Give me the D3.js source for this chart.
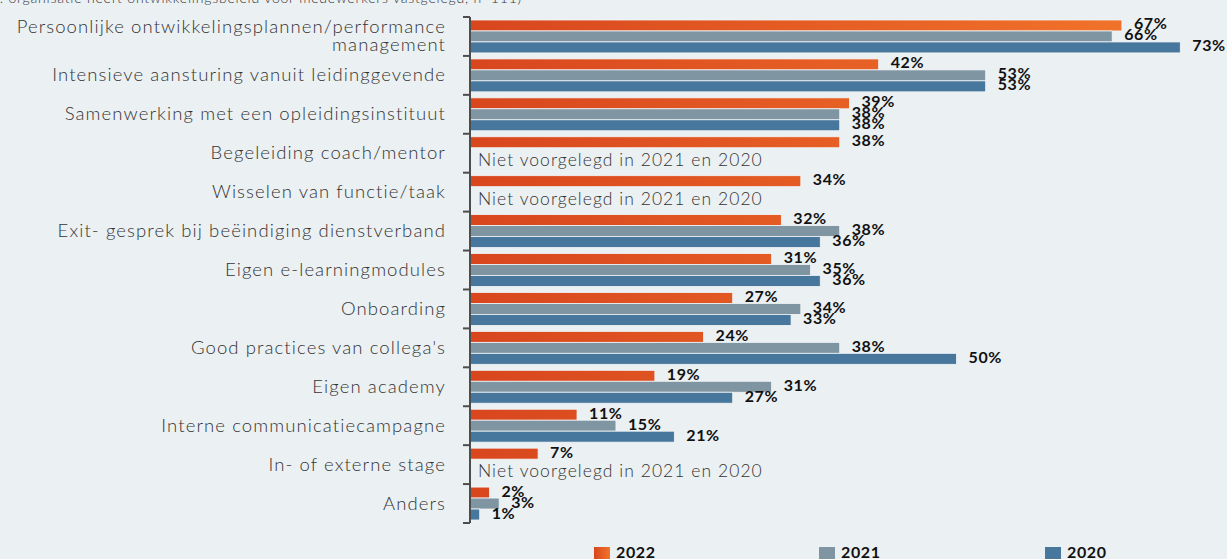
<!DOCTYPE html>
<html>
<head>
<meta charset="utf-8">
<script src="https://cdn.jsdelivr.net/npm/d3@7"></script>
<style>
  body { margin: 0; background: #ebf0f3; }
  svg { display: block; }
</style>
</head>
<body>
<div id="chart"></div>
<script>
const width = 1227, height = 559;

const categories = [
  ["Persoonlijke ontwikkelingsplannen/performance", "management"],
  ["Intensieve aansturing vanuit leidinggevende"],
  ["Samenwerking met een opleidingsinstituut"],
  ["Begeleiding coach/mentor"],
  ["Wisselen van functie/taak"],
  ["Exit- gesprek bij beëindiging dienstverband"],
  ["Eigen e-learningmodules"],
  ["Onboarding"],
  ["Good practices van collega's"],
  ["Eigen academy"],
  ["Interne communicatiecampagne"],
  ["In- of externe stage"],
  ["Anders"]
];
const years = ["2022", "2021", "2020"];
const values2022 = [67, 42, 39, 38, 34, 32, 31, 27, 24, 19, 11, 7, 2];
const values2021 = [66, 53, 38, null, null, 38, 35, 34, 38, 31, 15, null, 3];
const values2020 = [73, 53, 38, null, null, 36, 36, 33, 50, 27, 21, null, 1];
const notAskedText = "Niet voorgelegd in 2021 en 2020";
const subtitle = "(Basis: organisatie heeft ontwikkelingsbeleid voor medewerkers vastgelegd, n=111)";

const seriesValues = { "2022": values2022, "2021": values2021, "2020": values2020 };
const colors = { "2022": "url(#grad2022)", "2021": "#7f95a2", "2020": "#47779c" };

const svg = d3.select("#chart").append("svg")
    .attr("width", width)
    .attr("height", height);

const defs = svg.append("defs");
const g1 = defs.append("linearGradient").attr("id", "grad2022")
    .attr("gradientUnits", "userSpaceOnUse")
    .attr("x1", 470).attr("x2", 1140).attr("y1", 0).attr("y2", 0);
g1.append("stop").attr("offset", "0%").attr("stop-color", "#d8461e");
g1.append("stop").attr("offset", "100%").attr("stop-color", "#f1732a");
const g2 = defs.append("linearGradient").attr("id", "grad2022legend");
g2.append("stop").attr("offset", "0%").attr("stop-color", "#d8461e");
g2.append("stop").attr("offset", "100%").attr("stop-color", "#f1732a");

svg.append("rect").attr("width", width).attr("height", height).attr("fill", "#ebf0f3");

// cut-off subtitle at the top
svg.append("text")
    .attr("x", 522).attr("y", 3)
    .attr("text-anchor", "end")
    .attr("font-family", "Lato")
    .attr("font-weight", 300)
    .attr("font-size", 14)
    .attr("letter-spacing", 0.8)
    .attr("fill", "#333")
    .text(subtitle);

const x = d3.scaleLinear().domain([0, 100]).range([470, 1443]);
const y = d3.scaleBand().domain(d3.range(categories.length)).range([17, 523]);
const inner = d3.scaleBand().domain(years).range([3, y.bandwidth() - 3]);

const rows = categories.map((c, i) => ({ i, label: c }));
const bars = [];
rows.forEach(r => years.forEach(yr => {
    const v = seriesValues[yr][r.i];
    if (v !== null) bars.push({ i: r.i, year: yr, value: v });
}));

// bars
svg.append("g").selectAll("rect")
    .data(bars)
    .join("rect")
    .attr("x", x(0))
    .attr("y", d => y(d.i) + inner(d.year))
    .attr("width", d => x(d.value) - x(0))
    .attr("height", inner.bandwidth())
    .attr("fill", d => colors[d.year])
    .attr("stroke", "#f3f6f8")
    .attr("stroke-width", 0.8);

// value labels
svg.append("g").selectAll("text")
    .data(bars)
    .join("text")
    .attr("x", d => x(d.value) + 12)
    .attr("y", d => y(d.i) + inner(d.year) + inner.bandwidth() / 2 + 4)
    .attr("font-family", "Lato")
    .attr("font-weight", 700)
    .attr("font-size", 16)
    .attr("letter-spacing", 0.6)
    .attr("fill", "#111")
    .text(d => d.value + "%");

// not asked labels
svg.append("g").selectAll("text")
    .data(rows.filter(r => values2021[r.i] === null))
    .join("text")
    .attr("x", x(0) + 8)
    .attr("y", r => y(r.i) + inner("2021") + inner.bandwidth() + 7)
    .attr("font-family", "Lato")
    .attr("font-weight", 300)
    .attr("font-size", 17.5)
    .attr("letter-spacing", 1.05)
    .attr("fill", "#333")
    .text(notAskedText);

// axis
const axis = svg.append("g");
axis.append("line")
    .attr("x1", x(0)).attr("x2", x(0))
    .attr("y1", y.range()[0]).attr("y2", y.range()[1])
    .attr("stroke", "#4d4d4d").attr("stroke-width", 2);
axis.selectAll(".tick")
    .data(d3.range(categories.length + 1))
    .join("line")
    .attr("class", "tick")
    .attr("x1", x(0) - 7).attr("x2", x(0))
    .attr("y1", i => y.range()[0] + i * y.step())
    .attr("y2", i => y.range()[0] + i * y.step())
    .attr("stroke", "#4d4d4d").attr("stroke-width", 2);

// category labels
svg.append("g").selectAll("text")
    .data(rows)
    .join("text")
    .attr("text-anchor", "end")
    .attr("font-family", "Lato")
    .attr("font-weight", 300)
    .attr("font-size", 18.5)
    .attr("letter-spacing", 1.1)
    .attr("fill", "#333")
    .each(function (r) {
        const t = d3.select(this);
        const cy = y(r.i) + y.bandwidth() / 2;
        const n = r.label.length;
        r.label.forEach((line, k) => {
            t.append("tspan")
                .attr("x", 446)
                .attr("y", cy + 6 + (k - (n - 1) / 2) * 18)
                .text(line);
        });
    });

// legend
const legendX = { "2022": 594, "2021": 819, "2020": 1045 };
const legend = svg.append("g").selectAll("g")
    .data(years)
    .join("g")
    .attr("transform", d => `translate(${legendX[d]},547)`);
legend.append("rect")
    .attr("width", 16).attr("height", 16)
    .attr("fill", d => d === "2022" ? "url(#grad2022legend)" : colors[d]);
legend.append("text")
    .attr("x", 22).attr("y", 11)
    .attr("font-family", "Lato")
    .attr("font-weight", 700)
    .attr("font-size", 16)
    .attr("letter-spacing", 0.6)
    .attr("fill", "#111")
    .text(d => d);
</script>
</body>
</html>
